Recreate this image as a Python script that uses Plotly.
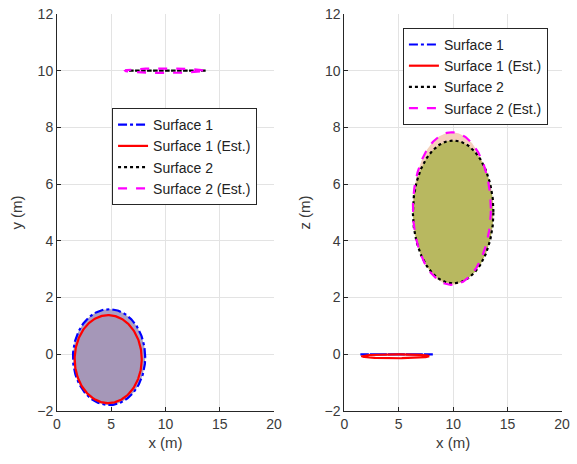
import numpy as np
import plotly.graph_objects as go

# ---- data ----
names = ["Surface 1", "Surface 1 (Est.)", "Surface 2", "Surface 2 (Est.)"]
center_x = [4.80, 4.72, 10.00, 9.88]
center_y = [-0.10, -0.17, 10.00, 10.00]
center_z = [0.00, -0.07, 5.02, 5.14]
radius_x = [3.33, 3.09, 3.70, 3.58]
radius_y = [1.69, 1.55, 0.00, 0.08]
radius_z = [0.00, 0.07, 2.52, 2.69]

x_ticks = [0, 5, 10, 15, 20]
y_ticks = [-2, 0, 2, 4, 6, 8, 10, 12]

# ---- styles ----
line_colors = ["#0000ff", "#ff0000", "#000000", "#ff00ff"]
line_dashes = ["dashdot", "solid", "dot", "dash"]
fill_xy = ["rgba(170,160,196,1)", "rgba(165,151,184,1)", None, None]
fill_xz = [None, None, "rgba(184,184,96,1)", "rgba(244,208,186,1)"]

t = np.linspace(0, 2 * np.pi, 241)

def outline(cu, cv, ru, rv):
    return cu + ru * np.cos(t), cv + rv * np.sin(t)

fig = go.Figure()

# fills first (no legend)
for i in [3, 2]:
    u, v = outline(center_x[i], center_z[i], radius_x[i], radius_z[i])
    fig.add_trace(go.Scatter(x=u, y=v, mode="lines", fill="toself",
                             fillcolor=fill_xz[i], line=dict(width=0),
                             showlegend=False, hoverinfo="skip",
                             xaxis="x2", yaxis="y2"))
for i in [0, 1]:
    u, v = outline(center_x[i], center_y[i], radius_x[i], radius_y[i])
    fig.add_trace(go.Scatter(x=u, y=v, mode="lines", fill="toself",
                             fillcolor=fill_xy[i], line=dict(width=0),
                             showlegend=False, hoverinfo="skip",
                             xaxis="x", yaxis="y"))

# outlines: x-y view
for i in range(4):
    u, v = outline(center_x[i], center_y[i], radius_x[i], radius_y[i])
    fig.add_trace(go.Scatter(x=u, y=v, mode="lines", name=names[i],
                             line=dict(color=line_colors[i], dash=line_dashes[i], width=2.2),
                             xaxis="x", yaxis="y", legend="legend"))
# outlines: x-z view
for i in range(4):
    u, v = outline(center_x[i], center_z[i], radius_x[i], radius_z[i])
    fig.add_trace(go.Scatter(x=u, y=v, mode="lines", name=names[i],
                             line=dict(color=line_colors[i], dash=line_dashes[i], width=2.2),
                             xaxis="x2", yaxis="y2", legend="legend2"))

FONT = "Liberation Sans, Arial, sans-serif"
axcol = "#262626"
grid = "#e3e3e3"
txtcol = "#3a3a3a"

common_x = dict(range=[0, 20], tickvals=x_ticks, showgrid=True, gridcolor=grid,
                zeroline=False, showline=True, linecolor=axcol, linewidth=1,
                ticks="inside", ticklen=4, tickcolor=axcol, automargin=False,
                tickfont=dict(size=14, color=txtcol, family=FONT),
                title=dict(text="x (m)", font=dict(size=15, color=txtcol, family=FONT), standoff=6))
common_y = dict(range=[-2, 12], tickvals=y_ticks, showgrid=True, gridcolor=grid,
                zeroline=False, showline=True, linecolor=axcol, linewidth=1,
                ticks="inside", ticklen=4, tickcolor=axcol, automargin=False,
                tickfont=dict(size=14, color=txtcol, family=FONT))

leg = dict(bgcolor="white", bordercolor=axcol, borderwidth=1,
           font=dict(size=14, color="#222222", family=FONT),
           xanchor="left", yanchor="top", tracegroupgap=0)

fig.update_layout(
    width=577, height=464,
    margin=dict(l=57, r=15, t=14, b=53),
    paper_bgcolor="white", plot_bgcolor="white",
    font=dict(family=FONT),
    xaxis=dict(domain=[0, 0.4297], anchor="y", **common_x),
    yaxis=dict(domain=[0, 1], anchor="x",
               title=dict(text="y (m)", font=dict(size=15, color=txtcol, family=FONT), standoff=10),
               **common_y),
    xaxis2=dict(domain=[0.569, 1], anchor="y2", **common_x),
    yaxis2=dict(domain=[0, 1], anchor="x2",
                title=dict(text="z (m)", font=dict(size=15, color=txtcol, family=FONT), standoff=10),
                **common_y),
    legend=dict(x=0.109, y=0.763, **leg),
    legend2=dict(x=0.685, y=0.965, **leg),
)

fig.write_html("out.html", config={"displayModeBar": False},
               post_script="document.body.style.margin='0';document.body.style.overflow='hidden';")
